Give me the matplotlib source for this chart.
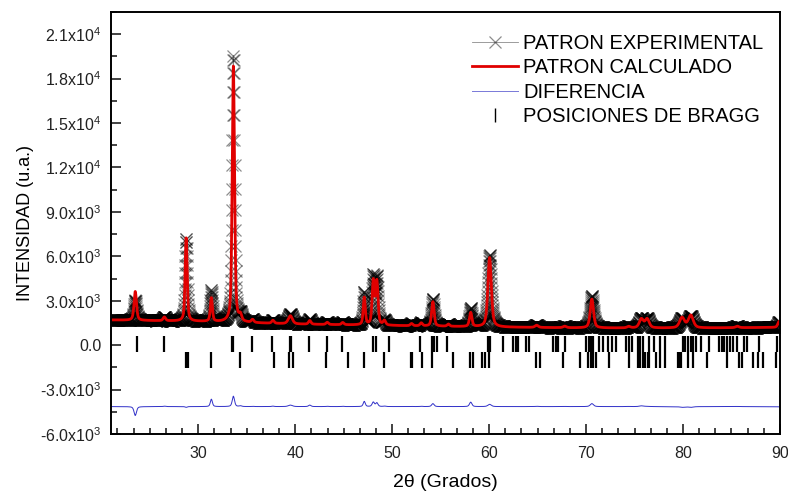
import numpy as np
import matplotlib

matplotlib.use("Agg")
import matplotlib.pyplot as plt
from matplotlib.ticker import FuncFormatter, MultipleLocator, AutoMinorLocator

plt.rcParams["font.family"] = ["Liberation Sans", "DejaVu Sans"]
plt.rcParams["mathtext.fontset"] = "custom"
plt.rcParams["mathtext.rm"] = "Liberation Sans"
plt.rcParams["mathtext.it"] = "Liberation Sans:italic"

# background points (2theta, counts)
bg_pos = [21.0, 30.0, 40.0, 50.0, 60.0, 70.0, 80.0, 90.0]
bg_int = [1700, 1600, 1420, 1320, 1220, 1160, 1150, 1200]

# reflections: position, FWHM, calculated net height, observed net height
peak_pos = [23.5, 26.5, 28.75, 31.35, 33.62, 34.35, 35.6, 37.7, 39.5, 41.5,
            43.3, 44.9, 47.12, 48.05, 48.42, 49.2, 52.0, 53.0, 54.2, 55.8,
            58.1, 60.05, 64.9, 67.8, 70.6, 74.4, 75.7, 76.3, 79.9, 80.8,
            85.6, 89.9]
peak_fwhm = [0.3, 0.3, 0.25, 0.25, 0.28, 0.3, 0.3, 0.3, 0.5, 0.3,
             0.3, 0.3, 0.25, 0.28, 0.28, 0.3, 0.3, 0.3, 0.3, 0.3,
             0.3, 0.42, 0.4, 0.4, 0.4, 0.4, 0.5, 0.5, 0.6, 0.6,
             0.4, 0.3]
calc_height = [1950, 250, 5650, 1600, 17300, 400, 200, 200, 550, 250,
               150, 150, 1850, 2950, 2900, 300, 150, 200, 1650, 150,
               950, 4700, 150, 100, 1950, 100, 600, 600, 700, 850,
               100, 400]
obs_height = [1350, 280, 5600, 2100, 18000, 450, 220, 230, 650, 350,
              170, 170, 2200, 3250, 3150, 330, 160, 220, 1850, 160,
              1250, 4850, 170, 110, 2150, 110, 650, 620, 650, 800,
              110, 380]

diff_offset = -4150

# Bragg reflection positions for the two phases
bragg_1 = [23.63, 26.43, 33.45, 33.62, 35.58, 37.6, 39.42, 39.6, 41.4, 43.3,
           44.87, 48.0, 48.3, 49.7, 52.9, 54.1, 54.3, 54.6, 55.7, 59.85,
           60.1, 61.4, 62.5, 62.75, 63.0, 63.8, 64.1, 66.6, 66.9, 67.1,
           67.8, 70.0, 70.3, 70.55, 70.7, 71.3, 71.75, 72.3, 72.7, 73.1,
           74.15, 74.4, 74.7, 75.35, 75.6, 75.85, 76.5, 77.0, 77.6, 78.1,
           80.0, 80.25, 80.5, 80.8, 81.0, 81.35, 81.9, 82.7, 83.7, 84.0,
           84.25, 84.5, 84.8, 85.2, 85.6, 86.3, 86.65, 87.85, 89.7]
bragg_2 = [28.7, 28.9, 31.3, 34.3, 37.84, 39.35, 39.8, 43.16, 45.45, 47.06,
           49.2, 51.9, 52.05, 53.1, 54.1, 56.3, 58.05, 58.3, 59.25, 59.6,
           60.0, 64.8, 65.2, 67.6, 69.35, 70.2, 70.5, 70.7, 71.0, 72.4,
           74.4, 75.35, 75.6, 75.85, 76.1, 76.4, 76.5, 77.2, 77.6, 78.1,
           79.45, 79.6, 79.8, 80.5, 81.0, 82.5, 84.5, 85.8, 86.1, 87.2,
           87.7, 88.2, 89.6]


def pseudo_voigt(x, x0, w, eta=0.5):
    u = (x - x0) / w
    gauss = np.exp(-4 * np.log(2) * u ** 2)
    lor = 1 / (1 + 4 * u ** 2)
    return eta * lor + (1 - eta) * gauss


def profile(x, heights):
    y = np.interp(x, bg_pos, bg_int).astype(float)
    for p, w, h in zip(peak_pos, peak_fwhm, heights):
        y += h * pseudo_voigt(x, p, w)
    return y


two_theta = np.arange(21.0, 90.0001, 0.02)
y_calc = profile(two_theta, calc_height)
y_obs = profile(two_theta, obs_height)
y_diff = y_obs - y_calc + diff_offset


def sci_fmt(v, pos):
    if abs(v) < 1e-9:
        return "0.0"
    exp = int(np.floor(np.log10(abs(v))))
    mant = v / 10 ** exp
    return r"%.1fx10$^{%d}$" % (mant, exp)


fig = plt.figure(figsize=(7.88, 4.94), dpi=100, facecolor="white")
ax = fig.add_axes([0.1409, 0.1215, 0.8489, 0.8542])

ax.plot(two_theta, y_obs, "-x", color="black", alpha=0.45, lw=0.6,
        markersize=8, markeredgewidth=0.9, label="PATRON EXPERIMENTAL")
ax.plot(two_theta, y_calc, "-", color="#e00000", lw=2.0,
        label="PATRON CALCULADO")
ax.plot(two_theta, y_diff, "-", color="#3030c8", lw=0.7,
        label="DIFERENCIA")
ax.plot(bragg_1, np.full(len(bragg_1), 100.0), "|", color="black",
        markersize=11, markeredgewidth=1.6, label="POSICIONES DE BRAGG")
ax.plot(bragg_2, np.full(len(bragg_2), -1000.0), "|", color="black",
        markersize=11, markeredgewidth=1.6)

ax.set_xlim(21, 90)
ax.set_ylim(-6000, 22500)
ax.xaxis.set_major_locator(MultipleLocator(10))
ax.xaxis.set_minor_locator(AutoMinorLocator(6))
ax.yaxis.set_major_locator(MultipleLocator(3000))
ax.yaxis.set_minor_locator(AutoMinorLocator(2))
ax.yaxis.set_major_formatter(FuncFormatter(sci_fmt))

ax.tick_params(which="both", direction="in", top=False, right=False,
               width=1.2, labelsize=11.5, colors="#222222")
ax.tick_params(which="major", length=7)
ax.tick_params(which="minor", length=4)
ax.tick_params(axis="x", pad=9)
ax.tick_params(axis="y", pad=7)
for sp in ax.spines.values():
    sp.set_linewidth(1.4)

ax.set_xlabel("2θ (Grados)", fontsize=14, labelpad=9)
ax.set_ylabel("INTENSIDAD (u.a.)", fontsize=13, labelpad=4)

leg = ax.legend(loc="upper left", bbox_to_anchor=(0.5396, 0.948),
                frameon=False, fontsize=14.5, handlelength=2.3,
                handletextpad=0.25, labelspacing=0.27, borderaxespad=0,
                borderpad=0, numpoints=1)
# lighter legend entries for the thin lines and the Bragg tick
leg.legend_handles[2].set_color("#7878d8")
leg.legend_handles[3].set_markeredgewidth(1.0)
leg.legend_handles[3].set_markersize(10)

fig.savefig("out.png", dpi=100, facecolor="white")
